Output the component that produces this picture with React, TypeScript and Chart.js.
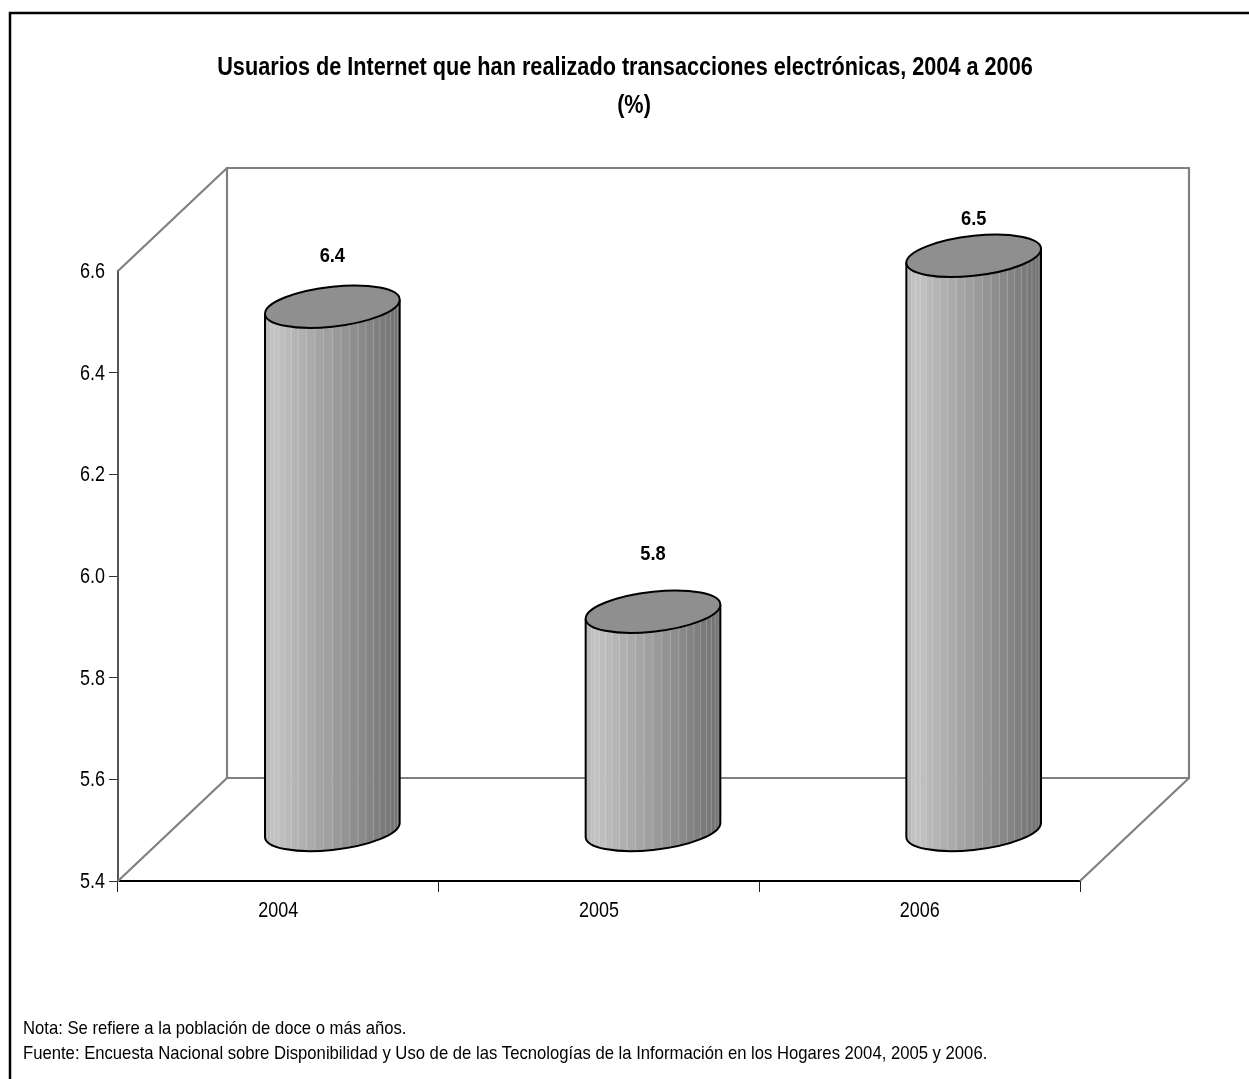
import React, { useEffect, useRef } from "react";
import { Chart, registerables } from "chart.js";

Chart.register(...registerables);

const years = ["2004", "2005", "2006"];
const usersPct = [6.4, 5.8, 6.5];
const axisMin = 5.4;
const axisMax = 6.6;
const axisStep = 0.2;
const titleLines = [
  "Usuarios de Internet que han realizado transacciones electrónicas, 2004 a 2006",
  "(%)",
];
const noteLines = [
  "Nota: Se refiere a la población de doce o más años.",
  "Fuente: Encuesta Nacional sobre Disponibilidad y Uso de de las Tecnologías de la Información en los Hogares 2004, 2005 y 2006.",
];

const FONT = '"Liberation Sans", Arial, sans-serif';
const WALL_DX = 109;
const WALL_DY = 103;
const BAR_DX = 54;
const BASE_LIFT = 51;
const CAP_LIFT = 66;
const CAP_SKEW = 7;
const CAP_RY = 20;
const FACETS = 24;
const LABEL_GAP = [50, 57, 37];

// Draws text squeezed horizontally, giving the condensed look of the chart's lettering.
function squeezedText(
  ctx: CanvasRenderingContext2D,
  text: string,
  x: number,
  y: number,
  font: string,
  squeeze: number,
  align: CanvasTextAlign,
  baseline: CanvasTextBaseline,
) {
  ctx.save();
  ctx.font = font;
  ctx.textAlign = align;
  ctx.textBaseline = baseline;
  ctx.fillStyle = "#000";
  ctx.translate(x, y);
  ctx.scale(squeeze, 1);
  ctx.fillText(text, 0, 0);
  ctx.restore();
}

function shade(t: number) {
  // Lightest just inside the left edge, falling towards the right side of the cylinder.
  const v = t < 0.06 ? 172 + (t / 0.06) * 24 : 196 - ((t - 0.06) / 0.94) * 84;
  const c = Math.round(v);
  return `rgb(${c},${c},${c})`;
}

function capPath(ctx: CanvasRenderingContext2D, cx: number, cy: number, a: number, start = 0, end = Math.PI * 2) {
  ctx.save();
  ctx.transform(1, -CAP_SKEW / a, 0, 1, cx, cy);
  ctx.ellipse(0, 0, a, CAP_RY, 0, start, end);
  ctx.restore();
}

const cylinderScene = {
  id: "cylinderScene",
  beforeDraw(chart: Chart) {
    const { ctx, width, height } = chart;
    ctx.save();
    ctx.fillStyle = "#fff";
    ctx.fillRect(0, 0, width, height);
    ctx.strokeStyle = "#000";
    ctx.lineWidth = 2.5;
    ctx.beginPath();
    ctx.moveTo(10, height);
    ctx.lineTo(10, 13);
    ctx.lineTo(width, 13);
    ctx.stroke();
    ctx.restore();
  },
  beforeDatasetsDraw(chart: Chart) {
    const { ctx, chartArea: a } = chart;
    const backL = a.left + WALL_DX;
    const backR = a.right + WALL_DX;
    const backT = a.top - WALL_DY;
    const backB = a.bottom - WALL_DY;
    ctx.save();
    ctx.strokeStyle = "#808080";
    ctx.lineWidth = 2.2;
    ctx.beginPath();
    ctx.rect(backL, backT, backR - backL, backB - backT);
    ctx.moveTo(a.left, a.top);
    ctx.lineTo(backL, backT);
    ctx.moveTo(a.left, a.bottom);
    ctx.lineTo(backL, backB);
    ctx.moveTo(a.right, a.bottom);
    ctx.lineTo(backR, backB);
    ctx.stroke();
    ctx.restore();
  },
  afterDatasetsDraw(chart: Chart) {
    const { ctx } = chart;
    const yScale = chart.scales.y;
    const floorY = yScale.getPixelForValue(axisMin);
    const bars = chart.getDatasetMeta(0).data as any[];
    bars.forEach((bar, i) => {
      const cx = bar.x + BAR_DX;
      const r = bar.width / 2;
      const topY = bar.y - CAP_LIFT;
      const botY = floorY - BASE_LIFT;

      // Side wall: clip to the skewed outline, then paint one strip per facet.
      ctx.save();
      ctx.beginPath();
      capPath(ctx, cx, topY, r, Math.PI, Math.PI * 2);
      capPath(ctx, cx, botY, r, 0, Math.PI);
      ctx.closePath();
      ctx.clip();
      for (let f = 0; f < FACETS; f++) {
        const x0 = cx - r * Math.cos((f / FACETS) * Math.PI);
        const x1 = cx - r * Math.cos(((f + 1) / FACETS) * Math.PI);
        ctx.fillStyle = shade(((x0 + x1) / 2 - (cx - r)) / (2 * r));
        ctx.fillRect(x0, topY - 40, x1 - x0 + 0.5, botY - topY + 80);
        if (f > 0) {
          ctx.fillStyle = "rgba(255,255,255,0.2)";
          ctx.fillRect(x0 - 0.5, topY - 40, 1, botY - topY + 80);
        }
      }
      ctx.restore();

      // Outline of the wall and of the lower rim.
      ctx.strokeStyle = "#000";
      ctx.lineWidth = 2;
      ctx.beginPath();
      ctx.moveTo(cx - r, topY + CAP_SKEW);
      ctx.lineTo(cx - r, botY + CAP_SKEW);
      ctx.moveTo(cx + r, botY - CAP_SKEW);
      ctx.lineTo(cx + r, topY - CAP_SKEW);
      ctx.stroke();
      ctx.beginPath();
      capPath(ctx, cx, botY, r, 0, Math.PI);
      ctx.stroke();

      // Top face.
      ctx.beginPath();
      capPath(ctx, cx, topY, r);
      ctx.fillStyle = "#8f8f8f";
      ctx.fill();
      ctx.stroke();

      // Value above the cylinder.
      squeezedText(ctx, usersPct[i].toFixed(1), cx, topY - LABEL_GAP[i], `bold 21px ${FONT}`, 0.87, "center", "middle");
    });
  },
  afterDraw(chart: Chart) {
    const { ctx } = chart;
    // Axis lettering, placed from the scales' own ticks.
    const xScale = chart.scales.x;
    const yScale = chart.scales.y;
    xScale.ticks.forEach((t: any, i: number) => {
      squeezedText(ctx, years[i], xScale.getPixelForTick(i), 911, `21.5px ${FONT}`, 0.836, "center", "middle");
    });
    yScale.ticks.forEach((t: any, i: number) => {
      squeezedText(ctx, Number(t.value).toFixed(1), 105, yScale.getPixelForTick(i) + 1, `21.5px ${FONT}`, 0.836, "right", "middle");
    });
    squeezedText(ctx, titleLines[0], 625, 75, `bold 25px ${FONT}`, 0.867, "center", "alphabetic");
    squeezedText(ctx, titleLines[1], 634, 113, `bold 25px ${FONT}`, 0.867, "center", "alphabetic");
    squeezedText(ctx, noteLines[0], 23, 1034, `19px ${FONT}`, 0.877, "left", "alphabetic");
    squeezedText(ctx, noteLines[1], 23, 1059, `19px ${FONT}`, 0.877, "left", "alphabetic");
  },
};

export default function App() {
  const ref = useRef<HTMLCanvasElement>(null);
  useEffect(() => {
    const chart = new Chart(ref.current!, {
      type: "bar",
      data: {
        labels: years,
        datasets: [
          {
            data: usersPct,
            backgroundColor: "rgba(0,0,0,0)",
            borderWidth: 0,
            barPercentage: 1,
            categoryPercentage: 0.42,
          },
        ],
      },
      options: {
        responsive: false,
        animation: false,
        layout: { padding: { left: 23, top: 271, right: 169, bottom: 148 } },
        plugins: { legend: { display: false }, tooltip: { enabled: false }, title: { display: false } },
        scales: {
          x: {
            afterFit: (s: any) => {
              s.height = 50;
            },
            grid: { drawOnChartArea: false, drawTicks: true, tickLength: 11, color: "#222", lineWidth: 1 },
            border: { color: "#000", width: 2 },
            ticks: { display: false },
          },
          y: {
            min: axisMin,
            max: axisMax,
            afterFit: (s: any) => {
              s.width = 95;
            },
            grid: {
              drawOnChartArea: false,
              tickLength: 9,
              color: (c: any) => (c.tick && c.tick.value >= axisMax - 0.01 ? "rgba(0,0,0,0)" : "#333"),
            },
            border: { color: "#555", width: 2 },
            ticks: { display: false, stepSize: axisStep },
          },
        },
      },
      plugins: [cylinderScene],
    } as any);
    return () => chart.destroy();
  }, []);
  return (
    <div style={{ position: "fixed", left: 0, top: 0 }}>
      <canvas ref={ref} width={1249} height={1079} style={{ display: "block" }} />
    </div>
  );
}
